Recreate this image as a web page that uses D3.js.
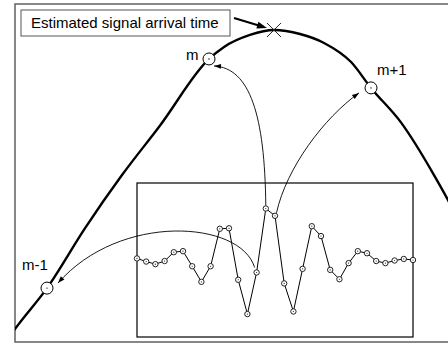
<!DOCTYPE html>
<html>
<head>
<meta charset="utf-8">
<script src="https://cdn.jsdelivr.net/npm/d3@7"></script>
<style>
  html, body { margin: 0; padding: 0; background: #fff; }
  svg { display: block; }
  text { font-family: "Liberation Sans", Arial, sans-serif; font-size: 15px; fill: #000; }
</style>
</head>
<body>
<svg id="chart" width="448" height="350"></svg>
<script>
// ---- Data ----
// correlation curve: sample offset (m = 0) vs normalised correlation
const curveX = [-1.25, -1.198, -1.0, -0.765, -0.537, -0.302, 0.0, 0.093, 0.253, 0.401, 0.562, 0.71, 0.877, 1.0, 1.185, 1.389, 1.475, 1.55];
const curveY = [-0.01, 0.029, 0.162, 0.357, 0.529, 0.69, 0.906, 0.945, 0.984, 1.0, 0.987, 0.958, 0.896, 0.812, 0.70, 0.529, 0.448, 0.37];
// sample markers on the correlation curve
const markerLabels = ["m-1", "m", "m+1"];
const markerX = [-1, 0, 1];
const markerY = [0.162, 0.906, 0.812];
// estimated arrival (peak)
const peakX = [0.401];
const peakY = [1.0];
// received waveform samples (inset)
const waveIdx = d3.range(31);
const waveY = [0.03, -0.03, -0.08, -0.02, 0.15, 0.17, -0.12, -0.42, -0.12, 0.60, 0.61, -0.38, -1.04, -0.24, 0.99, 0.85,
               -0.45, -0.99, -0.17, 0.65, 0.46, -0.19, -0.37, -0.06, 0.17, 0.13, -0.02, -0.06, -0.01, 0.02, 0.00];
const labelText = ["Estimated signal arrival time"];

// ---- Layout ----
const svg = d3.select("#chart");
const frame = { x0: 15, y0: 4, x1: 455, y1: 342 };
const x = d3.scaleLinear().domain([-1, 1]).range([47, 371]);
const y = d3.scaleLinear().domain([0, 1]).range([338, 30]);
const inset = { x0: 137, y0: 183, x1: 413, y1: 337 };
const xi = d3.scaleLinear().domain([0, 30]).range([137, 413]);
const yi = d3.scaleLinear().domain([-1, 1]).range([312, 208]);

svg.append("defs").append("clipPath").attr("id", "frameClip")
  .append("rect").attr("x", frame.x0).attr("y", frame.y0)
  .attr("width", frame.x1 - frame.x0).attr("height", frame.y1 - frame.y0);

// outer frame
svg.append("rect")
  .attr("x", frame.x0).attr("y", frame.y0)
  .attr("width", frame.x1 - frame.x0).attr("height", frame.y1 - frame.y0)
  .attr("fill", "#fff").attr("stroke", "#6a6a6a").attr("stroke-width", 1.6);

// correlation curve
const curveData = curveX.map((v, i) => [v, curveY[i]]);
svg.append("path")
  .attr("clip-path", "url(#frameClip)")
  .attr("d", d3.line().x(d => x(d[0])).y(d => y(d[1])).curve(d3.curveMonotoneX)(curveData))
  .attr("fill", "none").attr("stroke", "#000").attr("stroke-width", 2.4);

// inset box
svg.append("rect")
  .attr("x", inset.x0).attr("y", inset.y0)
  .attr("width", inset.x1 - inset.x0).attr("height", inset.y1 - inset.y0)
  .attr("fill", "#fff").attr("stroke", "#000").attr("stroke-width", 1.2);

// waveform
const waveData = waveIdx.map(i => [i, waveY[i]]);
svg.append("path")
  .attr("d", d3.line().x(d => xi(d[0])).y(d => yi(d[1]))(waveData))
  .attr("fill", "none").attr("stroke", "#000").attr("stroke-width", 1);
const wp = svg.append("g").selectAll("g").data(waveData).join("g")
  .attr("transform", d => `translate(${xi(d[0])},${yi(d[1])})`);
wp.append("circle").attr("r", 2.7).attr("fill", "#fff").attr("stroke", "#222").attr("stroke-width", 1);
wp.append("circle").attr("r", 0.6).attr("fill", "#222");

// arrowhead helper
function arrowHead(g, tip, from, len, half) {
  const dx = tip[0] - from[0], dy = tip[1] - from[1];
  const L = Math.hypot(dx, dy), ux = dx / L, uy = dy / L;
  const bx = tip[0] - ux * len, by = tip[1] - uy * len;
  g.append("path")
    .attr("d", `M${tip[0]},${tip[1]}L${bx - uy * half},${by + ux * half}L${bx + uy * half},${by - ux * half}Z`)
    .attr("fill", "#000");
}
const arrows = svg.append("g");
function curvedArrow(p0, p1, p2, p3) {
  const p = d3.path();
  p.moveTo(p0[0], p0[1]);
  p.bezierCurveTo(p1[0], p1[1], p2[0], p2[1], p3[0], p3[1]);
  arrows.append("path").attr("d", p.toString()).attr("fill", "none")
    .attr("stroke", "#000").attr("stroke-width", 0.9);
  arrowHead(arrows, p3, p2, 7, 2.4);
}

const mPos = markerX.map((v, i) => [x(v), y(markerY[i])]);
const w14 = [xi(13), yi(waveY[13])];
const w15 = [xi(14), yi(waveY[14])];
const w16 = [xi(15), yi(waveY[15])];

// wave peak -> m
{
  const s = [w15[0], w15[1] - 3], e = [mPos[1][0] + 5, mPos[1][1] + 7];
  curvedArrow(s, [s[0] - 1, s[1] - 90], [e[0] + 36, e[1] + 2], e);
}
// next sample -> m+1
{
  const s = [w16[0] + 1.5, w16[1] - 3], e = [mPos[2][0] - 12, mPos[2][1] + 5];
  curvedArrow(s, [s[0] + 10, s[1] - 45], [e[0] - 35, e[1] + 25], e);
}
// trough side -> m-1
{
  const s = [w14[0] - 2, w14[1] - 5], e = [mPos[0][0] + 11, mPos[0][1] - 5];
  curvedArrow(s, [s[0] - 14, s[1] - 47], [e[0] + 62, e[1] - 71], e);
}

// sample markers
const mk = svg.append("g").selectAll("g").data(mPos).join("g")
  .attr("transform", d => `translate(${d[0]},${d[1]})`);
mk.append("circle").attr("r", 6).attr("fill", "#fff").attr("stroke", "#000").attr("stroke-width", 1);
mk.append("circle").attr("r", 0.7).attr("fill", "#000");

// marker labels
const labelOffsets = [[-25, -18], [-23, 1], [6, -13]];
svg.append("g").selectAll("text").data(markerLabels).join("text")
  .attr("x", (d, i) => mPos[i][0] + labelOffsets[i][0])
  .attr("y", (d, i) => mPos[i][1] + labelOffsets[i][1])
  .text(d => d);

// peak cross
const px = x(peakX[0]), py = y(peakY[0]);
svg.append("path")
  .attr("d", `M${px - 7},${py - 7}L${px + 7},${py + 7}M${px - 7},${py + 7}L${px + 7},${py - 7}`)
  .attr("stroke", "#222").attr("stroke-width", 1);

// label box
svg.append("rect").attr("x", 21).attr("y", 10).attr("width", 209).attr("height", 26)
  .attr("fill", "#fff").attr("stroke", "#555").attr("stroke-width", 1);
svg.append("text").attr("x", 31).attr("y", 28).text(labelText[0]);

// label arrow to the peak
{
  const s = [234, 18], e = [px - 7, py - 2];
  svg.append("line").attr("x1", s[0]).attr("y1", s[1]).attr("x2", e[0] - 4).attr("y2", e[1] - 1.2)
    .attr("stroke", "#000").attr("stroke-width", 2);
  arrowHead(svg, e, s, 10, 3.5);
}
</script>
</body>
</html>
